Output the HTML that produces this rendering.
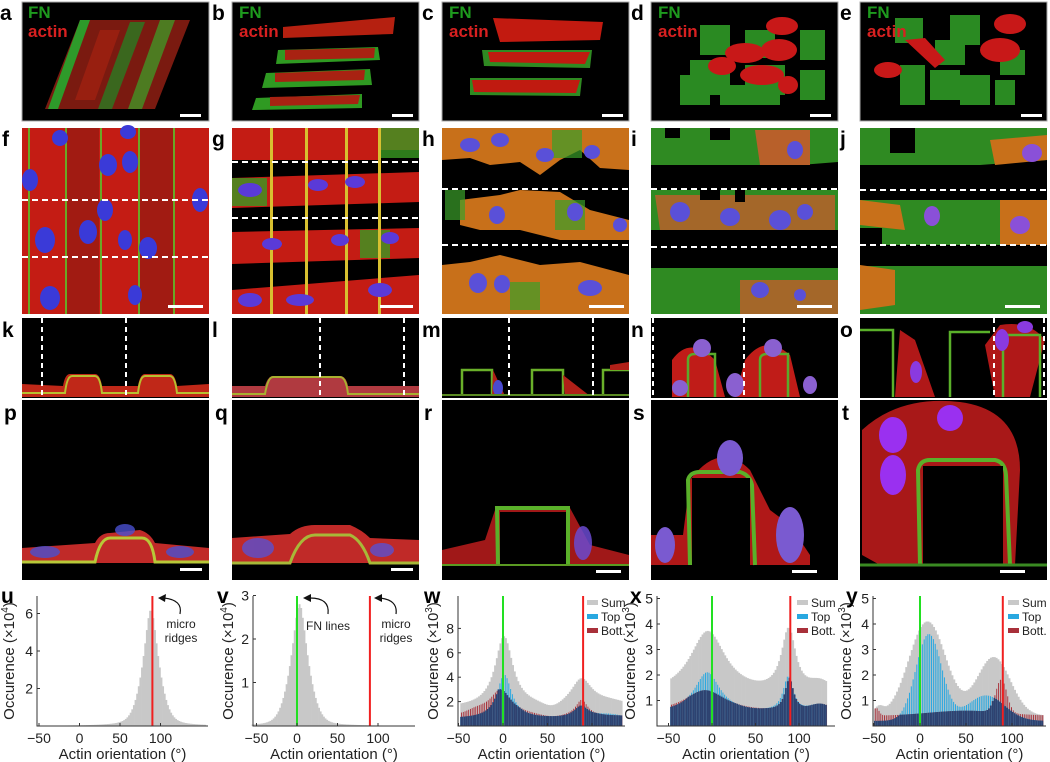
<!DOCTYPE html>
<html><head><meta charset="utf-8"><style>
html,body{margin:0;padding:0;background:#fff;}
svg{display:block;font-family:"Liberation Sans",Arial,sans-serif;}
.pl{font-size:21px;font-weight:bold;fill:#000;}
.tk{font-size:14px;fill:#222;}
.lb{font-size:15px;fill:#222;}
.fn{font-size:17px;font-weight:bold;fill:#1e9a1e;}
.ac{font-size:17px;font-weight:bold;fill:#d82020;}
</style></head><body>
<svg id="s" width="1050" height="762" viewBox="0 0 1050 762" xmlns="http://www.w3.org/2000/svg">
<rect width="1050" height="762" fill="#fff"/>

<!-- Row 1 -->
<g>
<rect x="22" y="2" width="187" height="119" fill="#000" stroke="#aaa"/>
<polygon points="80,20 190,20 155,109 45,109" fill="#7a1a10"/>
<polygon points="80,20 90,20 58,109 48,109" fill="#2e9a2a"/>
<polygon points="130,22 145,22 112,109 98,109" fill="#2a7a22" opacity="0.8"/>
<polygon points="160,20 175,20 142,109 128,109" fill="#3aa52a" opacity="0.7"/>
<polygon points="100,30 120,30 95,100 75,100" fill="#a02010" opacity="0.8"/>
<text class="pl" x="0" y="20">a</text><text class="fn" x="28" y="18">FN</text><text class="ac" x="28" y="37">actin</text>
<rect x="180" y="114" width="21" height="3" fill="#fff"/>

<rect x="232" y="2" width="187" height="119" fill="#000" stroke="#aaa"/>
<path d="M283,27 L395,17 L393,34 L283,38 Z" fill="#b52010"/>
<path d="M278,50 L378,47 L380,60 L276,64 Z" fill="#2f9a22"/>
<path d="M285,50 L375,48 L374,58 L285,60 Z" fill="#a82212"/>
<path d="M266,73 L370,69 L372,85 L262,88 Z" fill="#2f9a22"/>
<path d="M275,73 L365,70 L364,80 L275,82 Z" fill="#a82212"/>
<path d="M256,98 L362,94 L362,108 L252,110 Z" fill="#2f9a22"/>
<path d="M270,97 L360,95 L358,104 L270,106 Z" fill="#a82212"/>
<text class="pl" x="212" y="20">b</text><text class="fn" x="239" y="18">FN</text><text class="ac" x="239" y="37">actin</text>
<rect x="392" y="114" width="21" height="3" fill="#fff"/>

<rect x="442" y="2" width="187" height="119" fill="#000" stroke="#aaa"/>
<path d="M493,18 L603,22 L600,40 L500,42 Z" fill="#c21a10"/>
<path d="M482,50 L592,50 L590,68 L484,66 Z" fill="#2f8a22"/>
<path d="M488,52 L590,52 L585,64 L490,62 Z" fill="#c01a10"/>
<path d="M470,78 L582,78 L580,96 L470,95 Z" fill="#2f8a22"/>
<path d="M472,80 L580,80 L576,93 L474,92 Z" fill="#c01a10"/>
<text class="pl" x="422" y="20">c</text><text class="fn" x="449" y="18">FN</text><text class="ac" x="449" y="37">actin</text>
<rect x="602" y="114" width="21" height="3" fill="#fff"/>

<rect x="651" y="2" width="187" height="119" fill="#000" stroke="#aaa"/>
<g fill="#2a8a22"><rect x="700" y="25" width="30" height="30"/><rect x="745" y="30" width="30" height="28"/><rect x="800" y="30" width="25" height="30"/><rect x="690" y="60" width="40" height="35"/><rect x="745" y="65" width="40" height="30"/><rect x="800" y="70" width="25" height="30"/><rect x="680" y="75" width="30" height="30"/><rect x="720" y="85" width="60" height="20"/></g>
<g fill="#c81818"><ellipse cx="782" cy="26" rx="16" ry="9"/><ellipse cx="745" cy="53" rx="20" ry="10"/><ellipse cx="779" cy="50" rx="18" ry="11"/><ellipse cx="722" cy="66" rx="14" ry="9"/><ellipse cx="762" cy="75" rx="22" ry="10"/><ellipse cx="788" cy="85" rx="10" ry="9"/></g>
<text class="pl" x="631" y="20">d</text><text class="fn" x="658" y="18">FN</text><text class="ac" x="658" y="37">actin</text>
<rect x="810" y="114" width="21" height="3" fill="#fff"/>

<rect x="860" y="2" width="187" height="119" fill="#000" stroke="#aaa"/>
<g fill="#2a8a22"><rect x="895" y="18" width="28" height="25"/><rect x="950" y="15" width="30" height="30"/><rect x="935" y="40" width="30" height="25"/><rect x="1000" y="50" width="25" height="25"/><rect x="900" y="65" width="25" height="40"/><rect x="930" y="70" width="30" height="30"/><rect x="960" y="75" width="30" height="30"/><rect x="995" y="80" width="20" height="25"/></g>
<g fill="#c81818"><ellipse cx="1010" cy="24" rx="16" ry="10"/><ellipse cx="1000" cy="50" rx="20" ry="12"/><polygon points="905,40 925,38 945,60 935,68"/><ellipse cx="888" cy="70" rx="14" ry="8"/></g>
<text class="pl" x="840" y="20">e</text><text class="fn" x="867" y="18">FN</text><text class="ac" x="867" y="37">actin</text>
<rect x="1021" y="114" width="21" height="3" fill="#fff"/>
</g>

<!-- Row 2 -->
<g>
<rect x="22" y="128" width="187" height="186" fill="#c41c14"/>
<g fill="#8a1a10" opacity="0.6"><rect x="65" y="128" width="34" height="186"/><rect x="140" y="128" width="33" height="186"/></g>
<g fill="#6aa825"><rect x="28" y="128" width="2" height="186"/><rect x="65" y="128" width="2" height="186"/><rect x="100" y="128" width="2" height="186"/><rect x="138" y="128" width="2" height="186"/><rect x="173" y="128" width="2" height="186"/></g>
<g fill="#3a3ad8"><ellipse cx="45" cy="240" rx="10" ry="13"/><ellipse cx="30" cy="180" rx="8" ry="11"/><ellipse cx="88" cy="232" rx="9" ry="12"/><ellipse cx="108" cy="165" rx="9" ry="11"/><ellipse cx="130" cy="162" rx="8" ry="11"/><ellipse cx="105" cy="210" rx="8" ry="11"/><ellipse cx="125" cy="240" rx="7" ry="10"/><ellipse cx="148" cy="248" rx="9" ry="11"/><ellipse cx="50" cy="298" rx="10" ry="12"/><ellipse cx="135" cy="295" rx="7" ry="10"/><ellipse cx="200" cy="200" rx="8" ry="12"/><ellipse cx="60" cy="138" rx="8" ry="8"/><ellipse cx="128" cy="132" rx="8" ry="7"/></g>
<line x1="22" y1="200" x2="209" y2="200" stroke="#fff" stroke-width="2" stroke-dasharray="6,4"/>
<line x1="22" y1="257" x2="209" y2="257" stroke="#fff" stroke-width="2" stroke-dasharray="6,4"/>
<rect x="168" y="305" width="35" height="3" fill="#fff"/>
<text class="pl" x="2" y="146">f</text>

<rect x="232" y="128" width="187" height="186" fill="#000"/>
<g fill="#c41c14"><path d="M232,128 H419 V150 H380 V160 H232 Z"/><path d="M232,178 L419,172 V202 L232,208 Z"/><path d="M232,232 L419,228 V258 L232,264 Z"/><path d="M232,290 L419,275 V314 H232 Z"/></g>
<g fill="#3a9a22" opacity="0.8"><rect x="380" y="128" width="39" height="30"/><rect x="232" y="178" width="35" height="28"/><rect x="360" y="230" width="30" height="28"/></g>
<g fill="#d8c030"><rect x="270" y="128" width="3" height="186"/><rect x="305" y="128" width="3" height="186"/><rect x="345" y="128" width="3" height="186"/><rect x="378" y="128" width="3" height="186"/></g>
<g fill="#5a3ad8"><ellipse cx="250" cy="190" rx="12" ry="7"/><ellipse cx="318" cy="185" rx="10" ry="6"/><ellipse cx="355" cy="182" rx="10" ry="6"/><ellipse cx="272" cy="244" rx="10" ry="6"/><ellipse cx="340" cy="240" rx="9" ry="6"/><ellipse cx="390" cy="238" rx="9" ry="6"/><ellipse cx="300" cy="300" rx="14" ry="6"/><ellipse cx="380" cy="290" rx="12" ry="7"/><ellipse cx="250" cy="300" rx="12" ry="7"/></g>
<line x1="232" y1="162" x2="419" y2="162" stroke="#fff" stroke-width="2" stroke-dasharray="6,4"/>
<line x1="232" y1="218" x2="419" y2="218" stroke="#fff" stroke-width="2" stroke-dasharray="6,4"/>
<rect x="380" y="305" width="33" height="3" fill="#fff"/>
<text class="pl" x="212" y="146">g</text>

<rect x="442" y="128" width="187" height="186" fill="#000"/>
<g fill="#c8701a"><path d="M442,128 H629 V170 L600,168 L580,150 L560,160 L540,175 L520,162 L490,165 L470,158 L442,160 Z"/><path d="M460,200 L500,195 L520,190 L560,192 L590,210 L629,220 V240 H560 L540,235 L520,230 L480,230 L460,225 Z"/><path d="M442,265 L470,262 L500,255 L540,265 L580,262 L629,275 V314 H442 Z"/></g>
<g fill="#3aa02a" opacity="0.7"><rect x="552" y="130" width="30" height="28"/><rect x="555" y="200" width="30" height="30"/><rect x="510" y="282" width="30" height="28"/><rect x="445" y="190" width="20" height="30"/></g>
<g fill="#5a50d8"><ellipse cx="470" cy="145" rx="10" ry="7"/><ellipse cx="500" cy="140" rx="9" ry="7"/><ellipse cx="545" cy="155" rx="9" ry="7"/><ellipse cx="592" cy="152" rx="8" ry="7"/><ellipse cx="497" cy="215" rx="8" ry="9"/><ellipse cx="575" cy="212" rx="8" ry="9"/><ellipse cx="620" cy="225" rx="7" ry="7"/><ellipse cx="478" cy="283" rx="9" ry="10"/><ellipse cx="502" cy="284" rx="8" ry="9"/><ellipse cx="590" cy="288" rx="12" ry="8"/></g>
<line x1="442" y1="189" x2="629" y2="189" stroke="#fff" stroke-width="2" stroke-dasharray="6,4"/>
<line x1="442" y1="245" x2="629" y2="245" stroke="#fff" stroke-width="2" stroke-dasharray="6,4"/>
<rect x="589" y="305" width="35" height="3" fill="#fff"/>
<text class="pl" x="422" y="146">h</text>

<rect x="651" y="128" width="187" height="186" fill="#000"/>
<g fill="#2f8a22"><path d="M651,128 H838 V162 L800,165 H651 Z"/><path d="M651,190 H838 V230 H651 Z"/><path d="M651,265 H838 V314 H651 Z"/></g>
<g fill="#b8602a"><path d="M755,130 H810 V165 H760 Z"/><path d="M655,195 H835 V230 H660 Z" opacity="0.85"/><path d="M740,280 H838 V314 H740 Z" opacity="0.85"/></g>
<g fill="#000"><rect x="665" y="128" width="15" height="10"/><rect x="710" y="128" width="20" height="12"/><rect x="700" y="190" width="20" height="10"/><rect x="735" y="190" width="10" height="12"/><rect x="651" y="250" width="187" height="18"/></g>
<g fill="#5a50d8"><ellipse cx="795" cy="150" rx="8" ry="9"/><ellipse cx="680" cy="212" rx="10" ry="10"/><ellipse cx="730" cy="217" rx="10" ry="9"/><ellipse cx="780" cy="220" rx="11" ry="10"/><ellipse cx="805" cy="212" rx="8" ry="8"/><ellipse cx="760" cy="290" rx="9" ry="8"/><ellipse cx="800" cy="295" rx="6" ry="6"/></g>
<line x1="651" y1="189" x2="838" y2="189" stroke="#fff" stroke-width="2" stroke-dasharray="6,4"/>
<line x1="651" y1="247" x2="838" y2="247" stroke="#fff" stroke-width="2" stroke-dasharray="6,4"/>
<rect x="797" y="305" width="35" height="3" fill="#fff"/>
<text class="pl" x="631" y="146">i</text>

<rect x="860" y="128" width="187" height="186" fill="#000"/>
<g fill="#2f8a22"><path d="M860,128 H1047 V160 L980,165 H860 Z"/><path d="M860,200 H1047 V245 H860 Z"/><path d="M860,265 H1047 V314 H860 Z"/></g>
<g fill="#000"><rect x="890" y="128" width="25" height="25"/><rect x="860" y="228" width="22" height="18"/><rect x="860" y="252" width="187" height="14"/></g>
<g fill="#c8701a"><path d="M990,140 L1047,135 V160 L995,165 Z"/><path d="M860,200 L900,205 L905,230 L860,225 Z"/><path d="M1000,200 H1047 V245 H1000 Z"/><path d="M860,265 L895,270 V305 L860,310 Z"/></g>
<g fill="#8a50d8"><ellipse cx="1032" cy="153" rx="10" ry="9"/><ellipse cx="932" cy="216" rx="8" ry="10"/><ellipse cx="1020" cy="225" rx="10" ry="9"/></g>
<line x1="860" y1="190" x2="1047" y2="190" stroke="#fff" stroke-width="2" stroke-dasharray="6,4"/>
<line x1="860" y1="245" x2="1047" y2="245" stroke="#fff" stroke-width="2" stroke-dasharray="6,4"/>
<rect x="1005" y="305" width="35" height="3" fill="#fff"/>
<text class="pl" x="840" y="146">j</text>
</g>

<!-- Row 3 -->
<g>
<rect x="22" y="318" width="187" height="80" fill="#000"/>
<path d="M22,384 L63,386 Q65,374 70,374 L95,374 Q100,374 102,386 L138,386 Q140,374 145,374 L170,374 Q175,374 177,386 L209,384 L209,397 L22,397 Z" fill="#c02818"/>
<path d="M22,393 L65,393 Q67,376 72,376 L95,376 Q100,376 102,393 L138,393 Q140,376 145,376 L170,376 Q175,376 177,393 L209,393" fill="none" stroke="#b8c030" stroke-width="2"/>
<line x1="42" y1="318" x2="42" y2="397" stroke="#fff" stroke-width="2" stroke-dasharray="5,4"/>
<line x1="126" y1="318" x2="126" y2="397" stroke="#fff" stroke-width="2" stroke-dasharray="5,4"/>
<text class="pl" x="2" y="337">k</text>

<rect x="232" y="318" width="187" height="80" fill="#000"/>
<path d="M232,386 L265,386 Q268,376 273,376 L340,376 Q346,376 348,386 L419,386 L419,397 L232,397 Z" fill="#b03a40"/>
<path d="M232,394 L265,394 Q268,377 273,377 L340,377 Q346,377 348,394 L419,394" fill="none" stroke="#a8b030" stroke-width="2"/>
<line x1="320" y1="318" x2="320" y2="397" stroke="#fff" stroke-width="2" stroke-dasharray="5,4"/>
<line x1="404" y1="318" x2="404" y2="397" stroke="#fff" stroke-width="2" stroke-dasharray="5,4"/>
<text class="pl" x="212" y="337">l</text>

<rect x="442" y="318" width="187" height="80" fill="#000"/>
<path d="M462,396 V370 H492 V396 M532,396 V370 H563 V396 M603,396 V370 H629" fill="none" stroke="#6ab02a" stroke-width="2.5"/>
<path d="M493,370 L505,396 L492,396 Z M563,375 L590,396 L565,396 Z M610,365 L629,362 V370 L610,370 Z" fill="#b02018"/>
<ellipse cx="498" cy="388" rx="5" ry="8" fill="#4a4ad0"/>
<line x1="442" y1="395" x2="629" y2="395" stroke="#5a8a22" stroke-width="2"/>
<line x1="509" y1="318" x2="509" y2="397" stroke="#fff" stroke-width="2" stroke-dasharray="5,4"/>
<line x1="593" y1="318" x2="593" y2="397" stroke="#fff" stroke-width="2" stroke-dasharray="5,4"/>
<text class="pl" x="422" y="337">m</text>

<rect x="651" y="318" width="187" height="80" fill="#000"/>
<path d="M672,397 L672,360 Q690,335 715,360 L725,397 Z M735,397 L745,360 Q765,333 790,355 L800,397 Z" fill="#c01c18"/>
<path d="M688,397 V360 Q688,354 695,354 H715 V397 M760,397 V360 Q760,354 767,354 H788 V397" fill="none" stroke="#5aaa2a" stroke-width="2.5"/>
<g fill="#8a60d0"><ellipse cx="702" cy="348" rx="9" ry="9"/><ellipse cx="773" cy="348" rx="9" ry="9"/><ellipse cx="680" cy="388" rx="8" ry="8"/><ellipse cx="735" cy="385" rx="9" ry="12"/><ellipse cx="810" cy="385" rx="7" ry="9"/></g>
<line x1="653" y1="318" x2="653" y2="397" stroke="#fff" stroke-width="2" stroke-dasharray="5,4"/>
<line x1="744" y1="318" x2="744" y2="397" stroke="#fff" stroke-width="2" stroke-dasharray="5,4"/>
<text class="pl" x="631" y="337">n</text>

<rect x="860" y="318" width="187" height="80" fill="#000"/>
<path d="M900,330 L915,340 L935,397 L895,397 Z M985,345 L1000,325 Q1030,320 1045,340 L1030,397 H995 Z" fill="#b01818"/>
<path d="M860,330 H893 V397 M950,397 V332 H990 M1003,397 V335 H1040 V397" fill="none" stroke="#5ab02a" stroke-width="2.5"/>
<g fill="#8a3ae0"><ellipse cx="916" cy="372" rx="6" ry="11"/><ellipse cx="1002" cy="340" rx="7" ry="11"/><ellipse cx="1025" cy="327" rx="8" ry="6"/></g>
<line x1="994" y1="318" x2="994" y2="397" stroke="#fff" stroke-width="2" stroke-dasharray="5,4"/>
<line x1="1044" y1="318" x2="1044" y2="397" stroke="#fff" stroke-width="2" stroke-dasharray="5,4"/>
<text class="pl" x="840" y="337">o</text>
</g>

<!-- Row 4 -->
<g>
<rect x="22" y="400" width="187" height="180" fill="#000"/>
<path d="M22,548 L95,543 Q100,533 110,533 L140,530 Q150,533 155,543 L209,548 L209,563 L22,563 Z" fill="#c02a28"/>
<path d="M22,562 L95,562 Q100,538 110,538 L142,538 Q152,538 155,562 L209,562" fill="none" stroke="#b8c838" stroke-width="3"/>
<g fill="#4a50d0" opacity="0.8"><ellipse cx="125" cy="530" rx="10" ry="6"/><ellipse cx="45" cy="552" rx="15" ry="6"/><ellipse cx="180" cy="552" rx="14" ry="6"/></g>
<rect x="180" y="568" width="22" height="3" fill="#fff"/>
<text class="pl" x="4" y="420">p</text>

<rect x="232" y="400" width="187" height="180" fill="#000"/>
<path d="M232,538 L290,534 Q300,525 315,525 L350,525 Q362,530 370,538 L419,540 L419,563 L232,563 Z" fill="#c02a28"/>
<path d="M232,563 L290,563 Q300,535 315,535 L350,535 Q362,540 370,563 L419,563" fill="none" stroke="#a8b838" stroke-width="3"/>
<g fill="#5a50d0" opacity="0.8"><ellipse cx="258" cy="548" rx="16" ry="10"/><ellipse cx="382" cy="550" rx="12" ry="7"/></g>
<rect x="391" y="568" width="22" height="3" fill="#fff"/>
<text class="pl" x="215" y="420">q</text>

<rect x="442" y="400" width="187" height="180" fill="#000"/>
<path d="M442,550 L485,540 L495,510 L510,507 L570,508 L590,545 L629,555 L629,566 L442,566 Z" fill="#a01818"/>
<path d="M498,566 L497,508 L568,508 L568,566" fill="none" stroke="#5ab02a" stroke-width="4"/>
<rect x="500" y="512" width="66" height="54" fill="#000"/>
<ellipse cx="583" cy="543" rx="9" ry="17" fill="#6a4ad0" opacity="0.85"/>
<line x1="442" y1="565" x2="629" y2="565" stroke="#5a9a22" stroke-width="2"/>
<rect x="596" y="570" width="25" height="3" fill="#fff"/>
<text class="pl" x="424" y="420">r</text>

<rect x="651" y="400" width="187" height="180" fill="#000"/>
<path d="M651,535 L683,535 L690,480 Q720,440 750,470 L770,510 L790,525 L810,555 L810,565 L651,565 Z" fill="#b01818"/>
<path d="M690,565 L688,480 Q690,472 700,472 L740,472 Q750,475 752,485 L755,565" fill="none" stroke="#5ab02a" stroke-width="4"/>
<rect x="692" y="478" width="58" height="87" fill="#000"/>
<g fill="#7a5ad0"><ellipse cx="730" cy="458" rx="13" ry="18"/><ellipse cx="665" cy="545" rx="10" ry="18"/><ellipse cx="790" cy="535" rx="14" ry="28"/></g>
<rect x="792" y="570" width="25" height="3" fill="#fff"/>
<text class="pl" x="633" y="420">s</text>

<rect x="860" y="400" width="187" height="180" fill="#000"/>
<path d="M862,430 Q900,395 960,402 Q1020,410 1020,470 L1015,565 L980,565 L960,560 L925,565 L880,565 L862,555 Z" fill="#a81818"/>
<path d="M920,565 L918,470 Q920,460 930,460 L995,460 Q1005,462 1006,475 L1010,565" fill="none" stroke="#5ab02a" stroke-width="4"/>
<rect x="923" y="466" width="80" height="99" fill="#000"/>
<g fill="#9a30f0"><ellipse cx="893" cy="435" rx="14" ry="18"/><ellipse cx="893" cy="475" rx="13" ry="20"/><ellipse cx="950" cy="418" rx="13" ry="13"/></g>
<line x1="860" y1="565" x2="1047" y2="565" stroke="#3a8a22" stroke-width="3"/>
<rect x="1000" y="570" width="25" height="3" fill="#fff"/>
<text class="pl" x="842" y="420">t</text>
</g>

<g id="charts"></g>
</svg>
<script>
(function(){
var NS="http://www.w3.org/2000/svg",g=document.getElementById("charts");
function el(t,a,txt){var e=document.createElementNS(NS,t);for(var k in a)e.setAttribute(k,a[k]);if(txt!=null)e.textContent=txt;g.appendChild(e);return e;}
function G(x,m,w){return Math.exp(-Math.pow((x-m)/w,2)/2);}
function L(x,m,w){return 1/(1+Math.pow((x-m)/w,2));}
var B=726;
function chart(c){
  var X=function(d){return c.x0+d*c.sx;}, Y=function(v){return B-v*c.sy;};
  var bw=2*c.sx;
  for(var d=c.d0;d<c.d1;d+=2){
    var s=c.sum(d+1);
    el("rect",{x:X(d),y:Y(s),width:bw+0.3,height:s*c.sy,fill:"#c8c8c8"});
    if(c.top){var t=c.top(d+1),b=c.bot(d+1),m=Math.min(t,b);
      el("rect",{x:X(d),y:Y(t),width:bw*0.55,height:t*c.sy,fill:"#29a8e0"});
      el("rect",{x:X(d)+bw*0.45,y:Y(b),width:bw*0.55,height:b*c.sy,fill:"#a8303a"});
      el("rect",{x:X(d),y:Y(m),width:bw,height:m*c.sy,fill:"#2e4270"});}
  }
  if(c.green)el("line",{x1:X(0),y1:596,x2:X(0),y2:B,stroke:"#22e022","stroke-width":2});
  el("line",{x1:X(90),y1:596,x2:X(90),y2:B,stroke:"#f02020","stroke-width":2});
  el("path",{d:"M"+c.L+",596 V"+B+" H"+c.R,fill:"none",stroke:"#333","stroke-width":1});
  [-50,0,50,100].forEach(function(v){el("line",{x1:X(v),y1:B,x2:X(v),y2:B-3,stroke:"#333"});
    el("text",{x:X(v),y:743,"text-anchor":"middle","class":"tk"},v<0?"\u2212"+(-v):""+v);});
  c.yt.forEach(function(v){el("line",{x1:c.L,y1:Y(v),x2:c.L+3,y2:Y(v),stroke:"#333"});
    el("text",{x:c.L-4,y:Y(v)+5,"text-anchor":"end","class":"tk"},""+v);});
  el("text",{x:(c.L+c.R)/2,y:759,"text-anchor":"middle","class":"lb"},"Actin orientation (\u00b0)");
  var t=el("text",{x:0,y:0,"text-anchor":"middle","class":"lb",transform:"translate("+(c.L-c.ylx)+",661) rotate(-90)"});
  t.appendChild(document.createTextNode("Occurence (\u00d710"));
  var sp=document.createElementNS(NS,"tspan");sp.setAttribute("dy","-6");sp.setAttribute("font-size","10");sp.textContent=c.exp;t.appendChild(sp);
  var sp2=document.createElementNS(NS,"tspan");sp2.setAttribute("dy","6");sp2.textContent=")";t.appendChild(sp2);
  el("text",{x:c.plx,y:603,"class":"pl","font-size":"23"},c.name);
  if(c.top){[["#c8c8c8","Sum"],["#29a8e0","Top"],["#a8303a","Bott."]].forEach(function(a,i){
    var yy=604+i*14;el("rect",{x:c.R-38,y:yy-4,width:11,height:5,fill:a[0]});
    el("text",{x:c.R-24,y:yy+3,"font-size":"12",fill:"#222"},a[1]);});}
}
chart({name:"u",L:37,R:208,x0:79.5,sx:0.81,sy:18.75,d0:-50,d1:156,yt:[2,4,6],exp:"4",ylx:23,plx:1,
 sum:function(d){return 6.2*(0.6*L(d,88,9)+0.4*G(d,88,12));}});
chart({name:"v",L:253,R:415,x0:297,sx:0.81,sy:43.5,d0:-56,d1:140,yt:[1,2,3],exp:"4",ylx:20,plx:217,green:1,
 sum:function(d){return 2.8*(0.55*L(d,3,9)+0.45*G(d,3,13));}});
chart({name:"w",L:458,R:625,x0:503,sx:0.89,sy:12.2,d0:-48,d1:134,yt:[2,4,6,8],exp:"3",ylx:20,plx:424,green:1,
 sum:function(d){return 1.5+5.8*L(d,1,12)+2.2*L(d,88,14)+0.4*G(d,120,20)-0.4*G(d,55,10);},
 top:function(d){return 0.6+3.6*L(d,2,10)+1.0*L(d,88,10)+0.3*G(d,120,15);},
 bot:function(d){return 0.8+2.2*L(d,-3,15)+1.3*L(d,88,8)-0.2*G(d,55,12)+0.3*G(d,-30,10);}});
chart({name:"x",L:657,R:835,x0:712,sx:0.87,sy:25.5,d0:-48,d1:132,yt:[1,2,3,4,5],exp:"3",ylx:22,plx:630,green:1,
 sum:function(d){return 1.2+2.5*L(d,-5,25)+2.5*L(d,88,10)+0.4*G(d,125,12);},
 top:function(d){return 0.5+1.6*L(d,-5,18)+1.4*L(d,88,7)+0.3*G(d,125,12);},
 bot:function(d){return 0.5+0.9*L(d,-8,30)+1.3*L(d,89,6)+0.3*G(d,125,12);}});
chart({name:"y",L:873,R:1046,x0:920,sx:0.92,sy:25.5,d0:-50,d1:134,yt:[1,2,3,4,5],exp:"3",ylx:22,plx:846,green:1,
 sum:function(d){return 0.4+3.7*G(d,8,20)+2.3*G(d,80,18)+0.3*G(d,-45,5);},
 top:function(d){return 0.2+3.4*G(d,10,14)+1.0*G(d,72,20);},
 bot:function(d){return 0.4+0.2*G(d,50,40)+1.3*G(d,88,6)+0.3*G(d,-48,3);}});
el("path",{d:"M180,614 Q183,600 164,598",fill:"none",stroke:"#111","stroke-width":1.2});
el("path",{d:"M158,598 L166,594 L165,602 Z",fill:"#111"});
el("text",{x:181,y:628,"text-anchor":"middle","font-size":"12",fill:"#222"},"micro");
el("text",{x:181,y:642,"text-anchor":"middle","font-size":"12",fill:"#222"},"ridges");
el("path",{d:"M328,614 Q330,598 310,598",fill:"none",stroke:"#111","stroke-width":1.2});
el("path",{d:"M303,598 L311,594 L311,602 Z",fill:"#111"});
el("text",{x:328,y:630,"text-anchor":"middle","font-size":"12",fill:"#222"},"FN lines");
el("path",{d:"M396,614 Q398,600 380,598",fill:"none",stroke:"#111","stroke-width":1.2});
el("path",{d:"M374,598 L382,594 L382,602 Z",fill:"#111"});
el("text",{x:396,y:628,"text-anchor":"middle","font-size":"12",fill:"#222"},"micro");
el("text",{x:396,y:642,"text-anchor":"middle","font-size":"12",fill:"#222"},"ridges");
})();
</script>
</body></html>
